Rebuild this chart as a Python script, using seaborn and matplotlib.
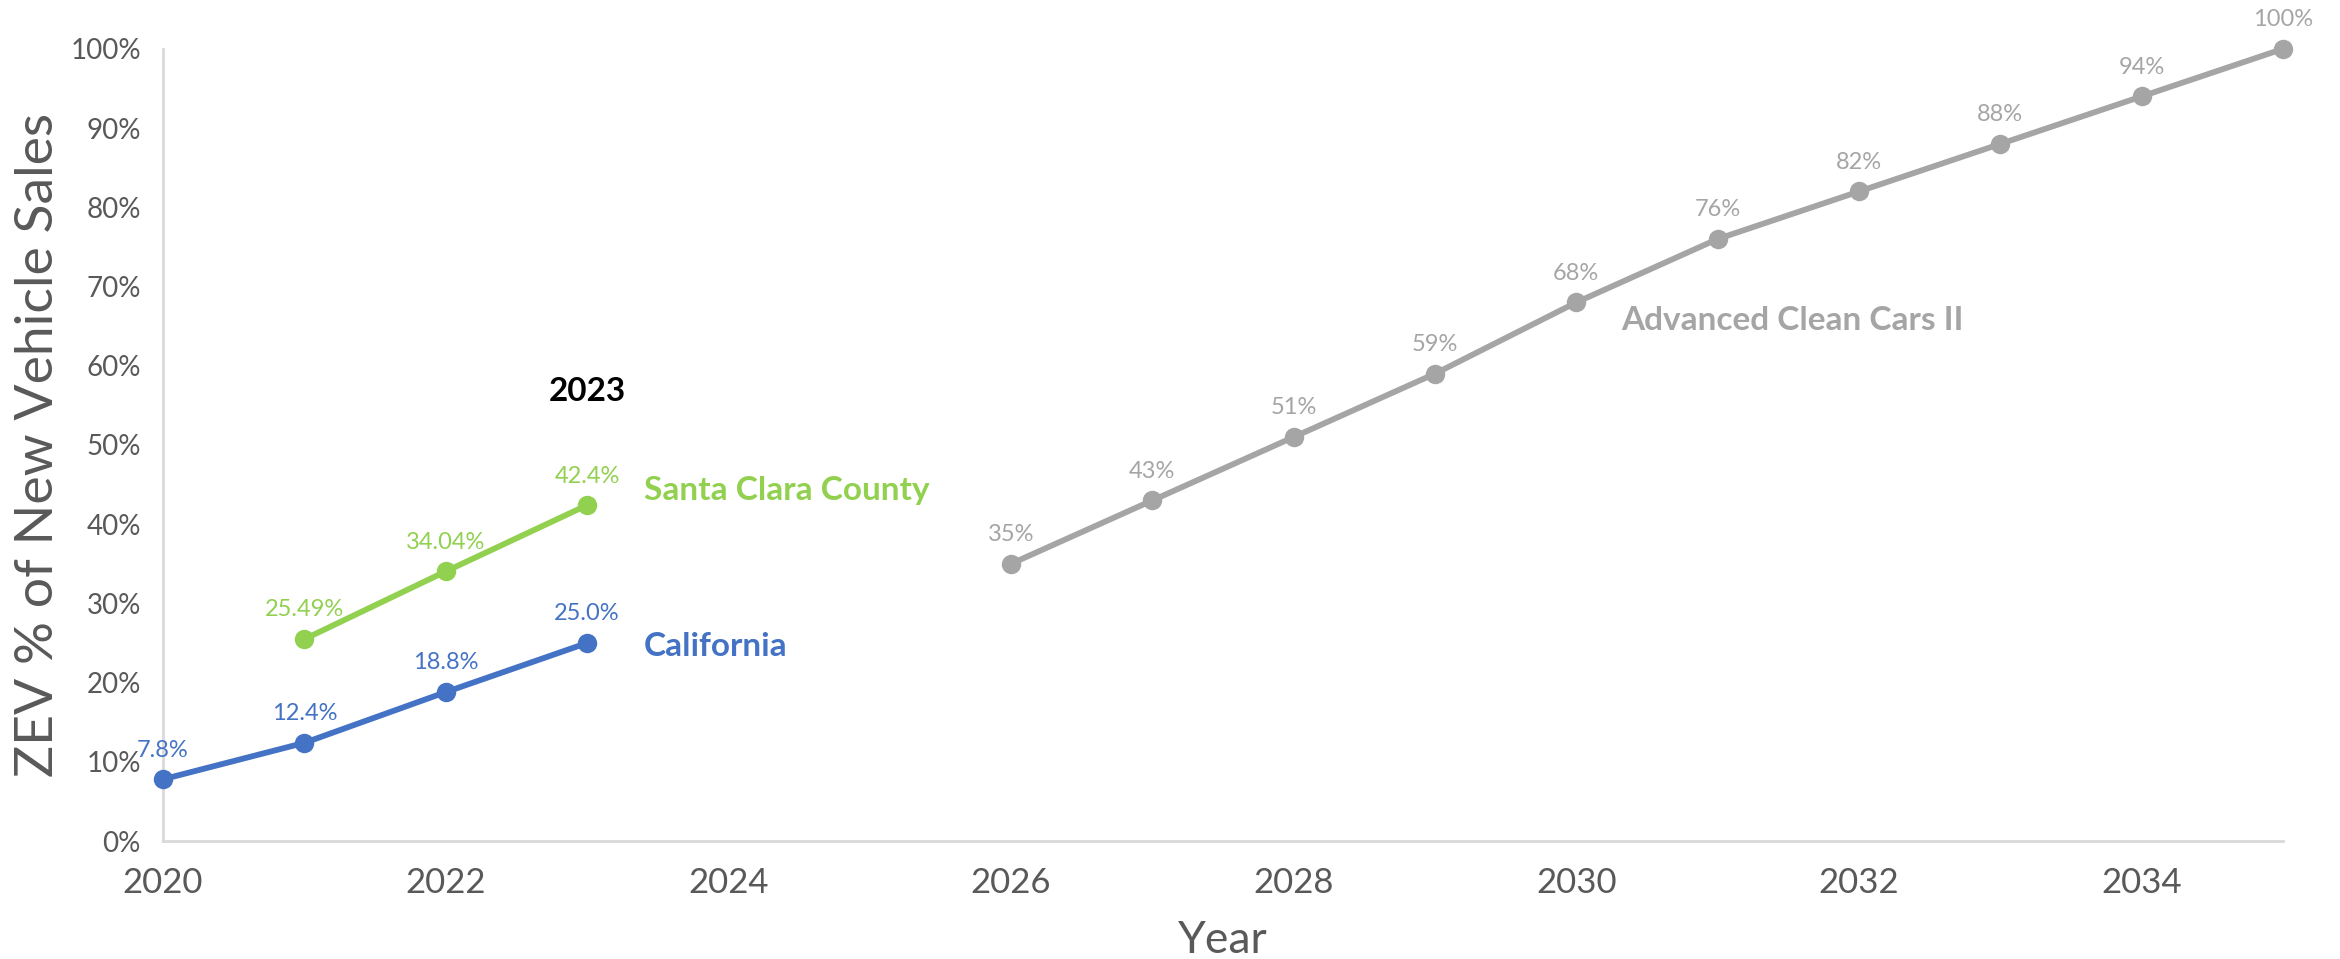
import matplotlib
matplotlib.use("Agg")
import matplotlib.pyplot as plt
import seaborn as sns
import pandas as pd

# Series data
ca_years = [2020, 2021, 2022, 2023]
ca_share = [7.8, 12.4, 18.8, 25.0]
ca_labels = ["7.8%", "12.4%", "18.8%", "25.0%"]

scc_years = [2021, 2022, 2023]
scc_share = [25.49, 34.04, 42.4]
scc_labels = ["25.49%", "34.04%", "42.4%"]

acc_years = [2026, 2027, 2028, 2029, 2030, 2031, 2032, 2033, 2034, 2035]
acc_share = [35, 43, 51, 59, 68, 76, 82, 88, 94, 100]
acc_labels = ["35%", "43%", "51%", "59%", "68%", "76%", "82%", "88%", "94%", "100%"]

x_ticks = [2020, 2022, 2024, 2026, 2028, 2030, 2032, 2034]
y_ticks = [0, 10, 20, 30, 40, 50, 60, 70, 80, 90, 100]
y_tick_labels = [f"{v}%" for v in y_ticks]

BLUE = "#4472C4"
GREEN = "#92D050"
GRAY = "#A5A5A5"
TEXT = "#595959"

sns.set_style("white")
plt.rcParams["font.family"] = ["Lato", "DejaVu Sans"]

fig = plt.figure(figsize=(23.4, 9.59), dpi=100)
ax = fig.add_axes([0.0697, 0.123, 0.9059, 0.826])

series = [
    (ca_years, ca_share, ca_labels, BLUE),
    (scc_years, scc_share, scc_labels, GREEN),
    (acc_years, acc_share, acc_labels, GRAY),
]
for years, share, labels, color in series:
    df = pd.DataFrame({"year": years, "share": share})
    sns.lineplot(data=df, x="year", y="share", ax=ax, color=color,
                 linewidth=4.2, marker="o", markersize=14,
                 markeredgewidth=0, clip_on=False, zorder=3)
    for x, y, t in zip(years, share, labels):
        ax.annotate(t, (x, y), xytext=(0, 21), textcoords="offset points",
                    ha="center", va="center", fontsize=17, color=color)

# Series names and highlight year
ax.text(2023, 56.7, "2023", ha="center", va="center", fontsize=24,
        fontweight="bold", color="black")
ax.text(2023.4, 44.2, "Santa Clara County", ha="left", va="center",
        fontsize=24, fontweight="bold", color=GREEN)
ax.text(2023.4, 24.6, "California", ha="left", va="center",
        fontsize=24, fontweight="bold", color=BLUE)
ax.text(2030.32, 65.7, "Advanced Clean Cars II", ha="left", va="center",
        fontsize=24, fontweight="bold", color=GRAY)

ax.set_xlim(2020, 2035)
ax.set_ylim(0, 100)
ax.set_xticks(x_ticks)
ax.set_xticklabels([str(v) for v in x_ticks])
ax.set_yticks(y_ticks)
ax.set_yticklabels(y_tick_labels)
ax.tick_params(axis="x", length=0, pad=19, labelsize=25, labelcolor=TEXT)
ax.tick_params(axis="y", length=0, pad=16, labelsize=20, labelcolor=TEXT)

ax.set_xlabel("Year", fontsize=32, color=TEXT, labelpad=15)
ax.set_ylabel("ZEV % of New Vehicle Sales", fontsize=38.5, color=TEXT, labelpad=6)

sns.despine(ax=ax)
for s in ("left", "bottom"):
    ax.spines[s].set_color("#D9D9D9")
    ax.spines[s].set_linewidth(2)

fig.savefig("out.png", dpi=100)
